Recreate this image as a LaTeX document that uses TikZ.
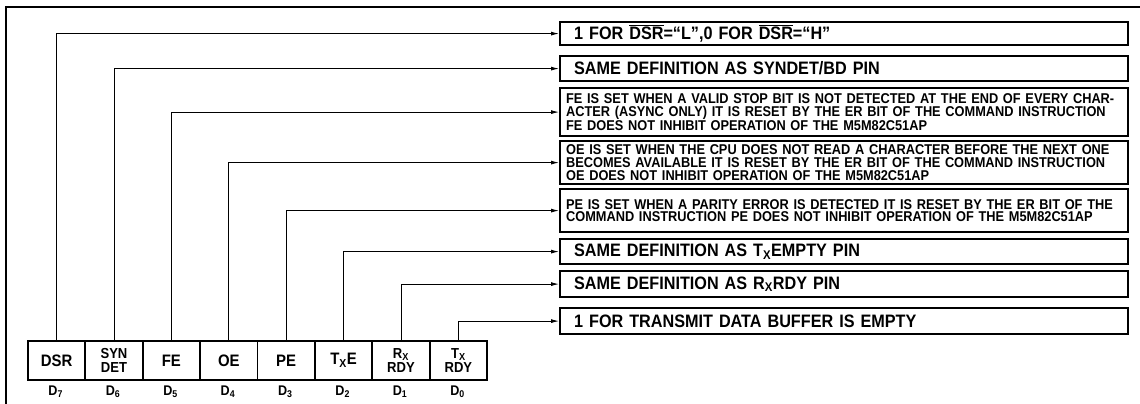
\documentclass[tikz,border=0pt]{standalone}
\usepackage{fontspec}
\setmainfont{Liberation Sans}[FakeStretch=0.9]
\usetikzlibrary{arrows.meta}

\newcommand\ovbar[1]{$\overline{\hbox{#1}}$}

\begin{document}
\begin{tikzpicture}[x=1pt,y=-1pt]
  % Parameters
  \def\bitwidth{57.4}
  \def\bitleft{27}
  \def\bittop{340}
  \def\bitheight{39}
  \def\descleft{559}

  % Styles
  \tikzset{
    frame/.style={line width=2.4pt},
    bitbox/.style={draw, line width=1.8pt, anchor=north west, inner sep=0pt,
      minimum width=\bitwidth*1pt, minimum height=\bitheight*1pt, align=center,
      font=\bfseries\fontsize{16.6}{16}\selectfont},
    twoline/.style={bitbox, font=\bfseries\fontsize{14.5}{14.2}\selectfont},
    dlabel/.style={font=\bfseries\fontsize{14}{14}\selectfont, inner sep=0pt},
    bigdesc/.style={draw, line width=2.2pt, anchor=north west, inner ysep=0pt,
      inner xsep=14pt, text width=540pt, align=left,
      font=\bfseries\fontsize{18}{18}\selectfont},
    smalldesc/.style={draw, line width=2.2pt, anchor=north west, inner ysep=0pt,
      inner xsep=6pt, text width=556pt, align=left,
      font=\bfseries\fontsize{14.2}{12.8}\selectfont},
    conn/.style={line width=0.9pt, -{Latex[length=8pt,width=4pt]}}
  }
  \useasboundingbox (0,0) rectangle (1140,404);

  % Outer frame
  \draw[frame] (6,404) -- (6,7) -- (1140,7);

  % Status bits D7 ... D0
  \foreach \lab/\sty [count=\i from 0] in {DSR/bitbox, {SYN\\DET}/twoline,
      FE/bitbox, OE/bitbox, PE/bitbox, T\textsubscript{X}E/bitbox,
      {R\textsubscript{X}\\RDY}/twoline, {T\textsubscript{X}\\RDY}/twoline} {
    \pgfmathtruncatemacro{\bit}{7-\i}
    \node[\sty] (b\bit) at ({\bitleft+\i*\bitwidth}, \bittop) {\lab};
    \node[dlabel] (d\bit) at ({\bitleft+(\i+0.5)*\bitwidth}, 392) {D\textsubscript{\bit}};
  }

  % Bit definitions
  \node[bigdesc, minimum height=23pt] (t7) at (\descleft, 21)
    {1 FOR \ovbar{DSR}=``L'',0 FOR \ovbar{DSR}=``H''};
  \node[bigdesc, minimum height=25pt] (t6) at (\descleft, 55)
    {SAME DEFINITION AS SYNDET/BD PIN};
  \node[smalldesc, minimum height=48pt] (t5) at (\descleft, 87)
    {FE IS SET WHEN A VALID STOP BIT IS NOT DETECTED AT THE END OF EVERY CHAR-\\
     ACTER (ASYNC ONLY) IT IS RESET BY THE ER BIT OF THE COMMAND INSTRUCTION\\
     FE DOES NOT INHIBIT OPERATION OF THE M5M82C51AP};
  \node[smalldesc, minimum height=43pt] (t4) at (\descleft, 140)
    {OE IS SET WHEN THE CPU DOES NOT READ A CHARACTER BEFORE THE NEXT ONE\\
     BECOMES AVAILABLE IT IS RESET BY THE ER BIT OF THE COMMAND INSTRUCTION\\
     OE DOES NOT INHIBIT OPERATION OF THE M5M82C51AP};
  \node[smalldesc, minimum height=43pt] (t3) at (\descleft, 188)
    {PE IS SET WHEN A PARITY ERROR IS DETECTED IT IS RESET BY THE ER BIT OF THE\\
     COMMAND INSTRUCTION PE DOES NOT INHIBIT OPERATION OF THE M5M82C51AP};
  \node[bigdesc, minimum height=25pt] (t2) at (\descleft, 238)
    {SAME DEFINITION AS T\textsubscript{X}EMPTY PIN};
  \node[bigdesc, minimum height=26pt] (t1) at (\descleft, 270)
    {SAME DEFINITION AS R\textsubscript{X}RDY PIN};
  \node[bigdesc, minimum height=26pt] (t0) at (\descleft, 307)
    {1 FOR TRANSMIT DATA BUFFER IS EMPTY};

  % Connectors from each bit to its definition
  \foreach \bit in {7,...,0} {
    \draw[conn] (b\bit.north) |- (t\bit.west);
  }

\end{tikzpicture}
\end{document}
